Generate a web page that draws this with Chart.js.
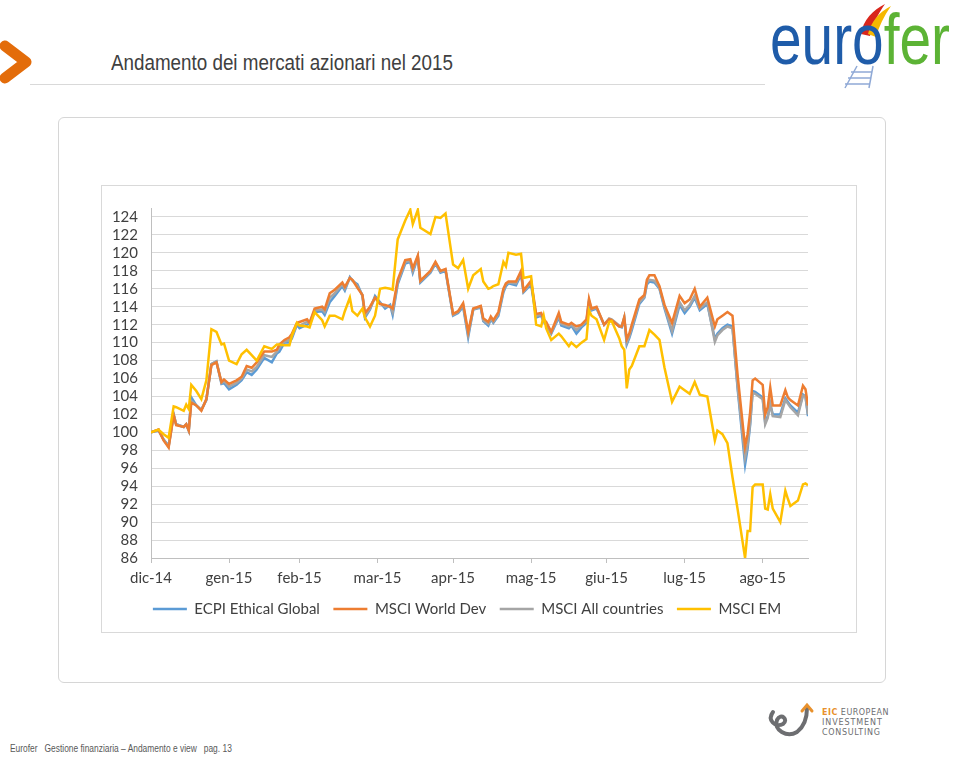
<!DOCTYPE html>
<html>
<head>
<meta charset="utf-8">
<title>Andamento dei mercati azionari nel 2015</title>
<script src="https://cdn.jsdelivr.net/npm/chart.js@4.4.1/dist/chart.umd.min.js"></script>
<style>
  body { margin: 0; background: #fff; width: 960px; height: 757px; position: relative; overflow: hidden; font-family: "Liberation Sans", Arial, sans-serif; }
  .title { position: absolute; left: 111px; top: 50px; font-size: 22px; color: #404040; transform: scaleX(0.855); transform-origin: left top; white-space: nowrap; }
  .rule { position: absolute; left: 30px; top: 84px; width: 735px; height: 1px; background: #d9d9d9; }
  .outer { position: absolute; left: 58px; top: 117px; width: 826px; height: 564px; border: 1px solid #d6d6d6; border-radius: 6px; }
  .inner { position: absolute; left: 101px; top: 185px; width: 754px; height: 446px; border: 1px solid #d9d9d9; }
  #chartWrap { position: absolute; left: 102px; top: 186px; width: 753px; height: 445px; }
  .footer { position: absolute; left: 10px; top: 743px; font-size: 10px; color: #595959; white-space: pre; transform: scaleX(0.84); transform-origin: left top; }
</style>
</head>
<body>

<svg style="position:absolute;left:0;top:40px" width="40" height="46">
  <polyline points="5,6 26,22 5,38" fill="none" stroke="#e36c0a" stroke-width="11" stroke-linecap="round" stroke-linejoin="round"/>
</svg>
<div class="title">Andamento dei mercati azionari nel 2015</div>
<div class="rule"></div>

<svg style="position:absolute;left:765px;top:0" width="195" height="92">
  <path d="M96,34 C98,20 108,10 120,4 C113,14 108,24 105,36 Z" fill="#d9261c"/>
  <path d="M103,34 C106,22 114,12 126,6 C119,16 114,26 111,37 Z" fill="#f5b800"/>
  <g stroke="#8fa9d6" stroke-width="1.5">
    <line x1="92" y1="66" x2="80" y2="88"/>
    <line x1="108" y1="66" x2="104" y2="88"/>
    <line x1="86" y1="72" x2="107" y2="72"/>
    <line x1="83" y1="78" x2="106" y2="78"/>
    <line x1="80" y1="84" x2="105" y2="84"/>
  </g>
  <text x="5" y="64" font-family="Liberation Sans, sans-serif" font-size="72" textLength="180" lengthAdjust="spacingAndGlyphs"><tspan fill="#1f5ca9">euro</tspan><tspan fill="#5cb335">fer</tspan></text>
</svg>

<div class="outer"></div>
<div class="inner"></div>
<div id="chartWrap"><canvas id="marketChart" width="753" height="445"></canvas></div>

<svg style="position:absolute;left:765px;top:698px" width="130" height="44">
  <path d="M8,14 C2,22 10,30 18,26 C24,22 16,14 12,22 C8,32 22,40 32,34 C40,28 42,20 42,10" fill="none" stroke="#6d6e71" stroke-width="4" stroke-linecap="round"/>
  <polyline points="37,13 42,7 47,13" fill="none" stroke="#e8912d" stroke-width="3" stroke-linecap="round"/>
  <text x="57" y="17" font-family="DejaVu Sans, sans-serif" font-size="8" letter-spacing="0.5" fill="#6d6e71"><tspan fill="#e8912d" font-weight="bold">EIC</tspan> EUROPEAN</text>
  <text x="57" y="27" font-family="DejaVu Sans, sans-serif" font-size="8" letter-spacing="0.9" fill="#6d6e71">INVESTMENT</text>
  <text x="57" y="37" font-family="DejaVu Sans, sans-serif" font-size="8" letter-spacing="0.7" fill="#6d6e71">CONSULTING</text>
</svg>

<div class="footer">Eurofer   Gestione finanziaria – Andamento e view   pag. 13</div>

<script>
// days after 31/12/2014
const days = [0,3,5,7,9,10,13,14,15,16,18,20,22,24,26,28,29,31,34,36,
  38,40,42,45,48,50,51,53,55,56,58,59,62,63,65,68,69,71,73,76,
  77,79,80,82,84,85,87,89,91,93,95,96,98,101,103,104,106,107,111,113,
  115,117,120,122,124,126,128,131,132,134,135,136,138,140,141,142,145,147,148,151,
  153,155,156,157,159,162,163,166,167,169,171,173,174,175,177,180,182,183,186,187,
  188,189,190,191,194,196,197,198,200,202,204,207,210,212,214,216,218,221,224,225,
  227,229,231,233,236,237,238,239,240,243,244,245,246,247,250,252,253,254,257,259,
  260,261];

const ecpiEthical = [100.0,100.2,99.2,98.5,102.0,100.9,100.6,100.9,100.2,103.9,103.0,102.5,103.6,107.6,107.9,105.4,105.5,104.8,105.3,105.8,
  106.7,106.4,107.0,108.3,107.8,108.8,109.0,110.0,110.0,110.5,112.0,111.6,112.0,112.1,113.4,113.5,113.1,114.5,115.2,116.3,
  115.8,117.3,116.9,116.5,115.2,112.8,113.7,115.2,114.5,113.8,114.2,113.1,116.5,118.8,119.0,117.8,119.5,116.7,117.8,118.8,
  117.8,118.0,113.0,113.3,114.0,110.6,113.7,113.9,112.4,111.9,112.6,112.2,113.0,115.6,116.3,116.6,116.4,117.6,115.6,116.5,
  112.8,113.0,112.3,112.0,111.0,112.8,111.9,111.6,111.9,111.0,111.7,112.2,114.5,113.6,113.8,112.0,112.6,112.5,111.8,111.7,
  112.7,109.8,110.5,111.4,114.3,115.0,116.5,116.8,116.7,116.0,113.8,111.0,114.2,113.3,114.0,115.0,113.6,114.3,110.4,111.0,
  111.6,112.0,111.8,105.0,96.4,98.2,100.8,104.6,104.5,103.9,101.1,101.8,103.1,102.0,102.0,103.8,103.4,103.0,102.2,104.2,
  104.0,101.8];

const msciWorld = [100.0,100.3,99.1,98.3,101.9,100.8,100.6,100.9,100.2,103.3,103.0,102.4,103.7,107.5,107.8,105.6,105.9,105.4,105.8,106.2,
  107.4,107.2,107.8,109.0,109.0,109.2,109.8,110.3,110.6,111.0,112.2,112.3,112.6,112.2,113.8,114.0,113.7,115.5,115.9,116.7,
  116.2,117.2,117.0,116.1,115.3,113.3,114.0,115.0,114.3,114.2,114.0,113.8,117.0,119.2,119.3,118.3,119.7,116.9,118.0,119.0,
  118.0,118.2,113.2,113.5,114.4,111.2,113.8,114.1,112.7,112.3,112.9,112.5,113.4,116.0,116.6,116.8,116.8,118.0,115.8,116.9,
  113.2,113.3,112.6,112.3,111.2,113.3,112.3,112.0,112.2,111.8,112.0,112.6,114.9,113.8,114.0,112.0,112.6,112.5,111.8,111.8,
  112.8,110.4,111.0,112.0,114.8,115.3,117.0,117.5,117.5,116.3,114.2,112.2,115.2,114.4,114.8,116.0,114.0,115.0,111.8,112.6,
  113.0,113.4,113.0,106.5,98.4,99.8,102.2,105.8,106.0,105.3,102.0,102.8,105.0,103.0,103.0,104.7,103.9,103.6,103.0,105.2,
  104.8,103.0];

const msciAll = [100.0,100.3,99.2,98.4,102.0,100.9,100.6,100.9,100.2,103.5,103.0,102.5,103.7,107.6,107.9,105.5,105.7,105.1,105.5,106.0,
  107.0,106.8,107.3,108.6,108.4,109.0,109.4,110.1,110.3,110.7,112.1,111.9,112.3,112.2,113.6,113.7,113.4,115.0,115.5,116.5,
  116.0,117.2,117.0,116.3,115.3,113.0,113.8,115.0,114.4,114.0,114.1,113.4,116.7,119.0,119.1,118.0,119.6,116.8,117.9,118.9,
  117.9,118.1,113.1,113.4,114.2,110.9,113.7,114.0,112.5,112.1,112.7,112.3,113.2,115.8,116.5,116.7,116.6,117.8,115.7,116.7,
  113.0,113.1,112.4,112.1,111.1,113.0,112.1,111.8,112.0,111.4,111.9,112.4,114.7,113.7,113.9,112.0,112.7,112.6,111.9,111.8,
  112.8,110.0,110.7,111.7,114.5,115.1,116.7,117.0,116.9,116.1,114.0,111.3,114.5,113.6,114.2,115.2,113.8,114.5,110.1,110.8,
  111.4,111.8,111.6,105.2,97.2,98.6,101.0,104.4,104.3,103.7,100.9,101.6,103.2,101.8,101.7,103.6,103.2,102.8,101.9,104.1,
  104.0,102.0];

const msciEM = [100.0,100.3,99.8,99.4,102.9,102.8,102.4,103.1,102.6,105.3,104.6,103.7,105.8,111.5,111.2,109.8,109.9,108.0,107.6,108.7,
  109.2,108.6,108.0,109.6,109.3,109.8,109.8,109.7,109.7,110.8,112.2,111.9,111.8,111.7,113.4,112.5,111.8,113.0,113.0,112.6,
  113.5,115.0,113.5,113.0,113.8,112.8,111.8,113.0,116.0,116.1,116.0,115.9,121.5,123.6,124.8,123.2,124.8,122.8,122.1,124.0,
  123.9,124.4,118.7,118.3,119.2,116.0,117.5,118.2,116.8,116.0,116.1,116.3,116.5,119.0,118.5,120.0,119.8,119.9,117.2,117.4,
  112.0,111.8,113.0,111.6,110.3,111.0,110.7,109.6,110.0,109.5,110.0,110.4,113.6,113.0,112.6,110.3,112.3,112.4,110.5,109.6,
  109.2,104.9,107.0,107.4,109.6,109.6,110.5,111.4,110.9,110.3,107.2,103.4,105.1,104.7,104.3,105.6,104.2,104.0,99.1,100.2,
  99.8,98.8,95.0,91.5,86.0,89.0,89.0,93.9,94.2,94.2,91.5,91.4,93.1,91.5,90.0,93.5,92.6,91.8,92.4,94.2,
  94.3,94.1];

const tickDays = [0, 31, 59, 90, 120, 151, 181, 212, 243];
const tickLabels = ["dic-14", "gen-15", "feb-15", "mar-15", "apr-15", "mag-15", "giu-15", "lug-15", "ago-15"];

const seriesNames = ["ECPI Ethical Global", "MSCI World Dev", "MSCI All countries", "MSCI EM"];
const seriesColors = ["#5b9bd5", "#ed7d31", "#a5a5a5", "#ffc000"];
const seriesValues = [ecpiEthical, msciWorld, msciAll, msciEM];
// drawing order: lower number ends up on top (EM, World, All, ECPI)
const seriesOrder = [3, 1, 2, 0];

const textColor = "#404040";
const labelFont = { family: "Lato, 'Open Sans', sans-serif", size: 15 };

const datasets = seriesValues.map((vals, k) => ({
  label: seriesNames[k],
  data: days.map((d, i) => ({ x: d, y: vals[i] })),
  borderColor: seriesColors[k],
  backgroundColor: seriesColors[k],
  borderWidth: 2.5,
  pointRadius: 0,
  pointStyle: "line",
  tension: 0,
  order: seriesOrder[k],
}));

// legend sits a little right of the canvas centre in the slide
const legendShift = {
  id: "legendShift",
  afterLayout(chart) {
    chart.legend.left += 12;
    chart.legend.right += 12;
  },
};

const ctx = document.getElementById("marketChart").getContext("2d");
const marketChart = new Chart(ctx, {
  type: "line",
  data: { datasets: datasets },
  plugins: [legendShift],
  options: {
    responsive: false,
    animation: false,
    layout: { padding: { left: 0, right: 47, top: 19, bottom: 4.5 } },
    scales: {
      x: {
        type: "linear",
        min: 0,
        max: 261,
        afterBuildTicks: (scale) => {
          scale.ticks = tickDays.map((d) => ({ value: d }));
        },
        afterFit: (scale) => { scale.height = 30; },
        ticks: {
          autoSkip: false,
          maxRotation: 0,
          padding: 6,
          color: textColor,
          font: labelFont,
          callback: (value) => tickLabels[tickDays.indexOf(value)],
        },
        grid: { drawOnChartArea: false, drawTicks: true, tickLength: 5, color: "#bfbfbf" },
        border: { color: "#bfbfbf" },
      },
      y: {
        min: 86,
        max: 125,
        afterFit: (scale) => { scale.width = 49; },
        ticks: {
          stepSize: 2,
          maxTicksLimit: 40,
          autoSkip: false,
          includeBounds: false,
          padding: 13,
          color: textColor,
          font: labelFont,
        },
        grid: { color: "#d9d9d9", drawTicks: false },
        border: { color: "#bfbfbf" },
      },
    },
    plugins: {
      legend: {
        position: "bottom",
        labels: {
          usePointStyle: true,
          pointStyleWidth: 34,
          padding: 13.5,
          color: textColor,
          font: labelFont,
          sort: (a, b) => a.datasetIndex - b.datasetIndex,
        },
      },
      tooltip: { enabled: false },
    },
  },
});
</script>
</body>
</html>
